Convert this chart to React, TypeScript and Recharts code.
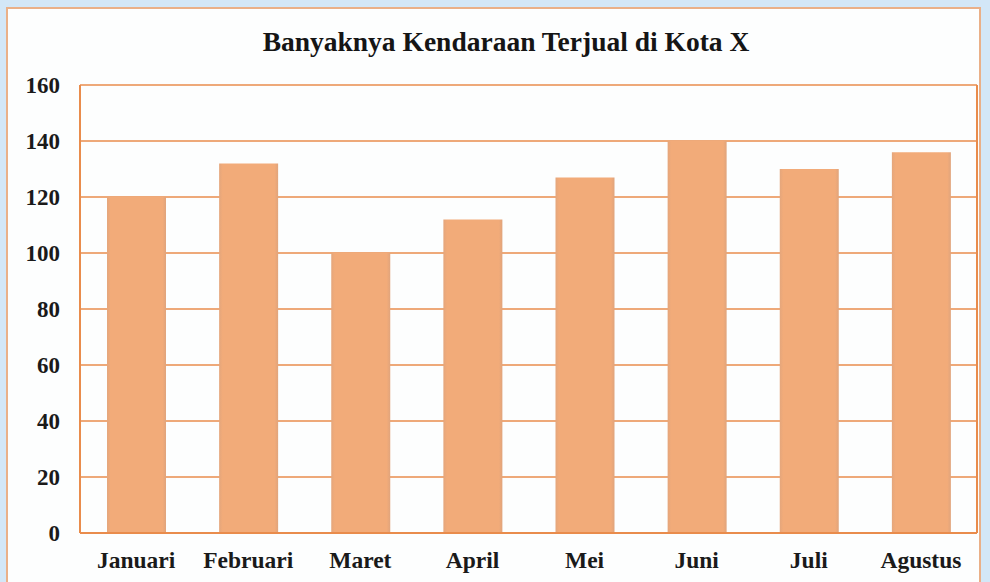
import React from "react";
import { BarChart, Bar, XAxis, YAxis, CartesianGrid } from "recharts";

const months = ["Januari", "Februari", "Maret", "April", "Mei", "Juni", "Juli", "Agustus"];
const sold = [120, 132, 100, 112, 127, 140, 130, 136];
const yTicks = [0, 20, 40, 60, 80, 100, 120, 140, 160];
const title = "Banyaknya Kendaraan Terjual di Kota X";

const data = months.map((m, i) => ({ month: m, value: sold[i] }));

const ORANGE = "#e98c4c";
const FONT = "Liberation Serif, Times New Roman, serif";

export default function App() {
  return (
    <div
      style={{
        position: "absolute",
        left: 0,
        top: 0,
        width: 990,
        height: 582,
        background: "#d3e7f7",
        overflow: "hidden",
      }}
    >
      <div
        style={{
          position: "absolute",
          left: 6,
          top: 7,
          width: 975,
          height: 590,
          background: "#fdfefe",
          border: "2px solid #eab088",
          boxSizing: "border-box",
        }}
      />
      <div style={{ position: "absolute", left: 0, top: 0 }}>
        <BarChart
          width={990}
          height={582}
          data={data}
          margin={{ top: 85, right: 0, bottom: 0, left: 0 }}
        >
          <defs>
            <linearGradient id="barGrad" x1="0" y1="0" x2="1" y2="0">
              <stop offset="0%" stopColor="#e4a67c" />
              <stop offset="6%" stopColor="#f2ab79" />
              <stop offset="94%" stopColor="#f2ab79" />
              <stop offset="100%" stopColor="#e0a47c" />
            </linearGradient>
          </defs>
          <CartesianGrid
            vertical={false}
            horizontal={true}
            stroke={ORANGE}
            strokeWidth={1.6}
            yAxisId="left"
          />
          <XAxis
            dataKey="month"
            height={49}
            tickLine={false}
            tickSize={0}
            tickMargin={18}
            axisLine={{ stroke: ORANGE, strokeWidth: 2 }}
            tick={{ fill: "#1a1a1a", fontFamily: FONT, fontWeight: "bold", fontSize: 23.5 }}
            interval={0}
          />
          <YAxis
            yAxisId="left"
            width={80}
            domain={[0, 160]}
            ticks={yTicks}
            tickLine={false}
            tickSize={0}
            tickMargin={20}
            axisLine={{ stroke: ORANGE, strokeWidth: 2 }}
            tick={{ fill: "#1a1a1a", fontFamily: FONT, fontWeight: "bold", fontSize: 23 }}
          />
          <YAxis
            yAxisId="right"
            orientation="right"
            width={13}
            domain={[0, 160]}
            tick={false}
            tickLine={false}
            axisLine={{ stroke: ORANGE, strokeWidth: 2 }}
          />
          <Bar
            yAxisId="left"
            dataKey="value"
            fill="url(#barGrad)"
            barSize={59}
            isAnimationActive={false}
          />
        </BarChart>
      </div>
      <svg
        width={990}
        height={80}
        style={{ position: "absolute", left: 0, top: 0, pointerEvents: "none" }}
      >
        <text
          x={506}
          y={51}
          textAnchor="middle"
          style={{ fontFamily: FONT, fontWeight: "bold", fontSize: 27.5 }}
          fill="#151515"
        >
          {title}
        </text>
      </svg>
    </div>
  );
}
